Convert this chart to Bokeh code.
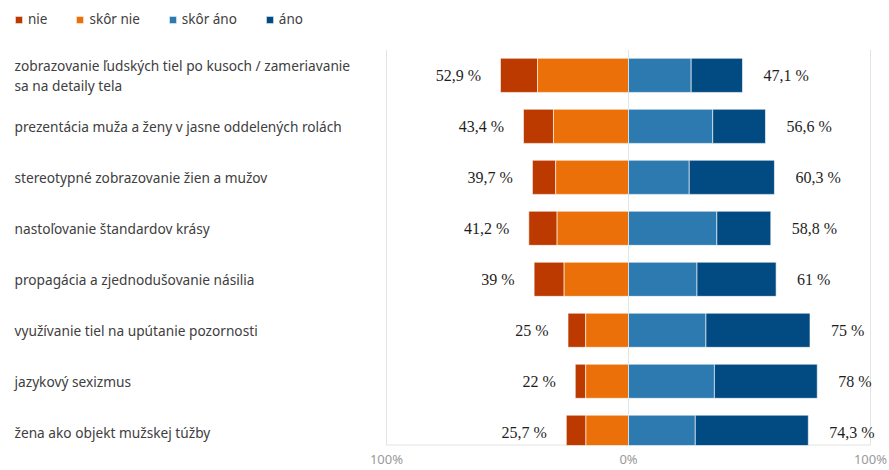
import numpy as np
from bokeh.plotting import figure
from bokeh.models import Range1d, FixedTicker, ColumnDataSource, Legend, LegendItem
from bokeh.core.properties import value
from bokeh.embed import file_html
from bokeh.resources import INLINE

categories = [
    "zobrazovanie ľudských tiel po kusoch / zameriavanie\nsa na detaily tela",
    "prezentácia muža a ženy v jasne oddelených rolách",
    "stereotypné zobrazovanie žien a mužov",
    "nastoľovanie štandardov krásy",
    "propagácia a zjednodušovanie násilia",
    "využívanie tiel na upútanie pozornosti",
    "jazykový sexizmus",
    "žena ako objekt mužskej túžby",
]
series_names = ["nie", "skôr nie", "skôr áno", "áno"]
nie = [15.3, 12.4, 9.6, 11.7, 12.4, 7.3, 4.3, 8.1]
skor_nie = [37.6, 31.0, 30.1, 29.5, 26.6, 17.7, 17.7, 17.6]
skor_ano = [25.9, 34.8, 25.1, 36.5, 28.3, 32.0, 35.5, 27.6]
ano = [21.2, 21.8, 35.2, 22.3, 32.7, 43.0, 42.5, 46.7]
tick_values = [-100, 0, 100]
tick_labels = ["100%", "0%", "100%"]

colors = ["#bc3a00", "#ec7009", "#2d7ab0", "#024a82"]

# layout constants (pixels)
W, H = 889, 470
PX = 2.42            # pixels per percent
LEFT_PX = 386        # screen x of -100 %
ROW_PX = 51.1        # row pitch
ROW0_PX = 75         # screen y of first row centre
FRAME_H = 446        # frame height (x axis below)

x_start = -100 - LEFT_PX / PX
x_end = x_start + W / PX
y_top = -ROW0_PX / ROW_PX
y_bot = (FRAME_H - ROW0_PX) / ROW_PX

nie_a = np.array(nie)
sn_a = np.array(skor_nie)
sa_a = np.array(skor_ano)
an_a = np.array(ano)
neg_total = nie_a + sn_a
pos_total = sa_a + an_a
n = len(categories)
ypos = np.arange(n)


def fmt(v):
    return ("%g" % round(float(v), 1)).replace(".", ",") + " %"


src = ColumnDataSource(dict(
    y=ypos,
    cat=categories,
    nie_l=-neg_total, nie_r=-sn_a,
    sn_l=-sn_a, sn_r=np.zeros(n),
    sa_l=np.zeros(n), sa_r=sa_a,
    an_l=sa_a, an_r=pos_total,
    neg_lab=[fmt(v) for v in neg_total],
    pos_lab=[fmt(v) for v in pos_total],
    neg_x=-neg_total - 19.5 / PX,
    pos_x=pos_total + 21 / PX,
    lab_x=np.full(n, x_start + 14 / PX),
))

p = figure(width=W, height=H,
           x_range=Range1d(x_start, x_end),
           y_range=Range1d(y_bot, y_top),
           output_backend="svg", toolbar_location=None,
           min_border_left=0, min_border_right=0,
           min_border_top=0, min_border_bottom=0)
p.outline_line_color = None
p.yaxis.visible = False
p.ygrid.grid_line_color = None
p.xgrid.grid_line_color = None
p.xaxis.ticker = FixedTicker(ticks=tick_values)
p.xaxis.major_label_overrides = {t: l for t, l in zip(tick_values, tick_labels)}
p.xaxis.major_tick_out = 0
p.xaxis.major_tick_in = 0
p.xaxis.minor_tick_out = 0
p.xaxis.minor_tick_in = 0
p.xaxis.axis_line_color = None
p.xaxis.major_label_standoff = 4
p.xaxis.major_label_text_font = "Noto Sans"
p.xaxis.major_label_text_font_size = "13px"
p.xaxis.major_label_text_color = "#9a9a9a"

# gridlines and baseline, limited to the bar area
gsrc = ColumnDataSource(dict(x=tick_values,
                             y0=[-0.5] * len(tick_values),
                             y1=[y_bot] * len(tick_values)))
p.segment(x0="x", x1="x", y0="y0", y1="y1", source=gsrc,
          line_color="#e4e4e4", line_width=1)
p.segment(x0=[tick_values[0]], x1=[tick_values[-1]], y0=[y_bot], y1=[y_bot],
          line_color="#e4e4e4", line_width=2)

h = 0.67
rs = []
for (l, r), c in zip([("nie_l", "nie_r"), ("sn_l", "sn_r"),
                      ("sa_l", "sa_r"), ("an_l", "an_r")], colors):
    rs.append(p.hbar(y="y", left=l, right=r, height=h, source=src,
                     fill_color=c, line_color="white", line_width=1,
                     line_alpha=0.6))

p.text(x="neg_x", y="y", text="neg_lab", source=src,
       text_font=value("Liberation Serif"), text_font_size="16px",
       text_color="#1e1e1e", text_align="right", text_baseline="middle")
p.text(x="pos_x", y="y", text="pos_lab", source=src,
       text_font=value("Liberation Serif"), text_font_size="16px",
       text_color="#1e1e1e", text_align="left", text_baseline="middle")

p.text(x="lab_x", y="y", text="cat", source=src,
       text_font=value("Noto Sans"), text_font_size="13.7px",
       text_color="#404040", text_align="left", text_baseline="middle",
       text_line_height=1.05)

legend = Legend(items=[LegendItem(label=nm, renderers=[r])
                       for nm, r in zip(series_names, rs)],
                orientation="horizontal", location=(14, FRAME_H - 29),
                glyph_width=9, glyph_height=9, label_standoff=5, spacing=28,
                label_width=17,
                padding=0, margin=0, border_line_color=None,
                background_fill_alpha=0,
                label_text_font="Noto Sans", label_text_font_size="13.5px",
                label_text_color="#404040")
p.add_layout(legend)

open("out.html", "w").write(file_html(p, INLINE))
